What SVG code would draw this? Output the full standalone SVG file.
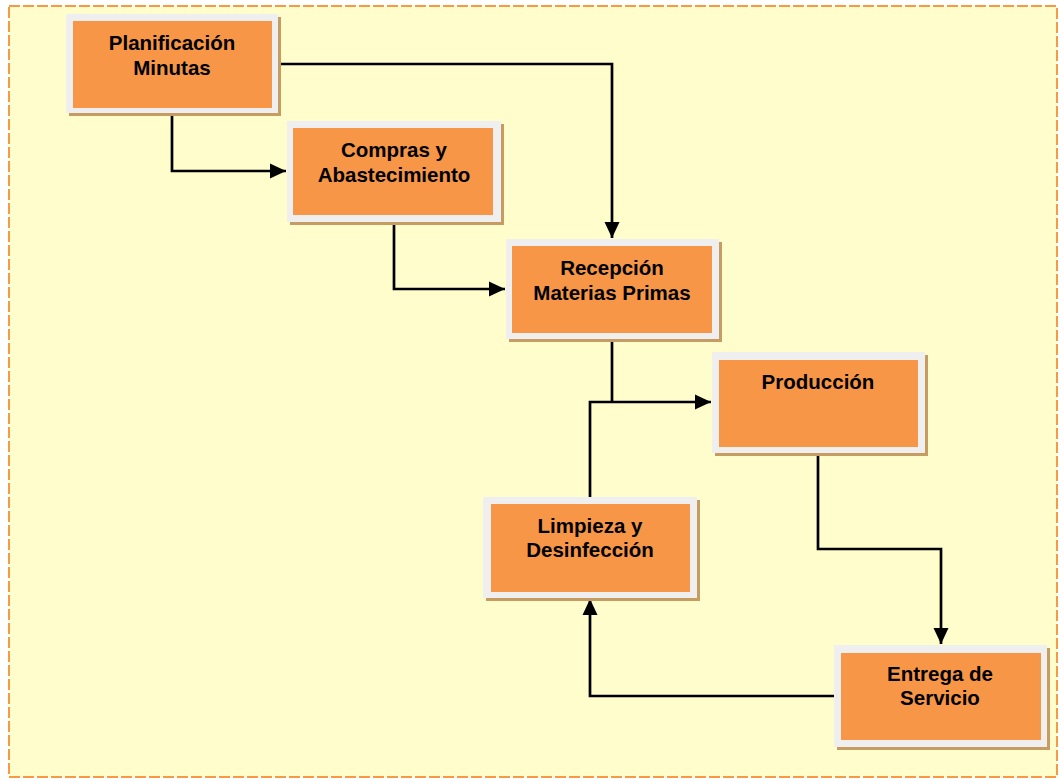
<svg xmlns="http://www.w3.org/2000/svg" width="1060" height="781" viewBox="0 0 1060 781">
<style>
.bg{fill:#FFFDCC;stroke:#F79A45;stroke-width:2;stroke-dasharray:11 3}
.sh{fill:#C69C63}
.fr{fill:#EFEFEF}
.in{fill:#F79646}
.t{font-family:"Liberation Sans",Arial,sans-serif;font-weight:bold;font-size:20.5px;fill:#000;text-anchor:middle}
.c{fill:none;stroke:#000;stroke-width:2.7}
</style>
<defs>
<marker id="ah" markerUnits="userSpaceOnUse" markerWidth="18" markerHeight="18" viewBox="0 0 18 18" refX="16" refY="9" orient="auto">
<path d="M0,1.5 L16,9 L0,16.5 Z" fill="#000"/>
</marker>
</defs>
<rect class="bg" x="9" y="6" width="1048" height="771"/>
<g id="connectors">
<polyline class="c" points="172,115 172,171 286,171" marker-end="url(#ah)"/>
<polyline class="c" points="279,64 612,64 612,238" marker-end="url(#ah)"/>
<polyline class="c" points="394,222 394,289 505,289" marker-end="url(#ah)"/>
<polyline class="c" points="612,339 612,402"/>
<polyline class="c" points="590,497 590,402 711,402" marker-end="url(#ah)"/>
<polyline class="c" points="818,453 818,549 941,549 941,644" marker-end="url(#ah)"/>
<polyline class="c" points="835,696 590,696 590,599" marker-end="url(#ah)"/>
</g>
<g id="n1">
<rect class="sh" x="69" y="17" width="212" height="99"/>
<rect class="fr" x="66" y="14" width="212" height="99"/>
<rect class="in" x="73" y="21" width="199" height="87"/>
<text class="t" x="172" y="50">Planificación</text>
<text class="t" x="172" y="75">Minutas</text>
</g>
<g id="n2">
<rect class="sh" x="290" y="124" width="214" height="101"/>
<rect class="fr" x="287" y="121" width="214" height="101"/>
<rect class="in" x="293" y="128" width="200" height="87"/>
<text class="t" x="394" y="157">Compras y</text>
<text class="t" x="394" y="182">Abastecimiento</text>
</g>
<g id="n3">
<rect class="sh" x="509" y="242" width="213" height="100"/>
<rect class="fr" x="506" y="239" width="213" height="100"/>
<rect class="in" x="512" y="246" width="200" height="87"/>
<text class="t" x="612" y="275">Recepción</text>
<text class="t" x="612" y="300">Materias Primas</text>
</g>
<g id="n4">
<rect class="sh" x="715" y="355" width="213" height="101"/>
<rect class="fr" x="712" y="352" width="213" height="101"/>
<rect class="in" x="719" y="360" width="199" height="87"/>
<text class="t" x="818" y="389">Producción</text>
</g>
<g id="n5">
<rect class="sh" x="486" y="500" width="214" height="101"/>
<rect class="fr" x="483" y="497" width="214" height="101"/>
<rect class="in" x="491" y="504" width="199" height="88"/>
<text class="t" x="590" y="533">Limpieza y</text>
<text class="t" x="590" y="557">Desinfección</text>
</g>
<g id="n6">
<rect class="sh" x="837" y="648" width="213" height="102"/>
<rect class="fr" x="834" y="645" width="213" height="102"/>
<rect class="in" x="841" y="653" width="200" height="87"/>
<text class="t" x="940" y="681">Entrega de</text>
<text class="t" x="940" y="705">Servicio</text>
</g>
</svg>
